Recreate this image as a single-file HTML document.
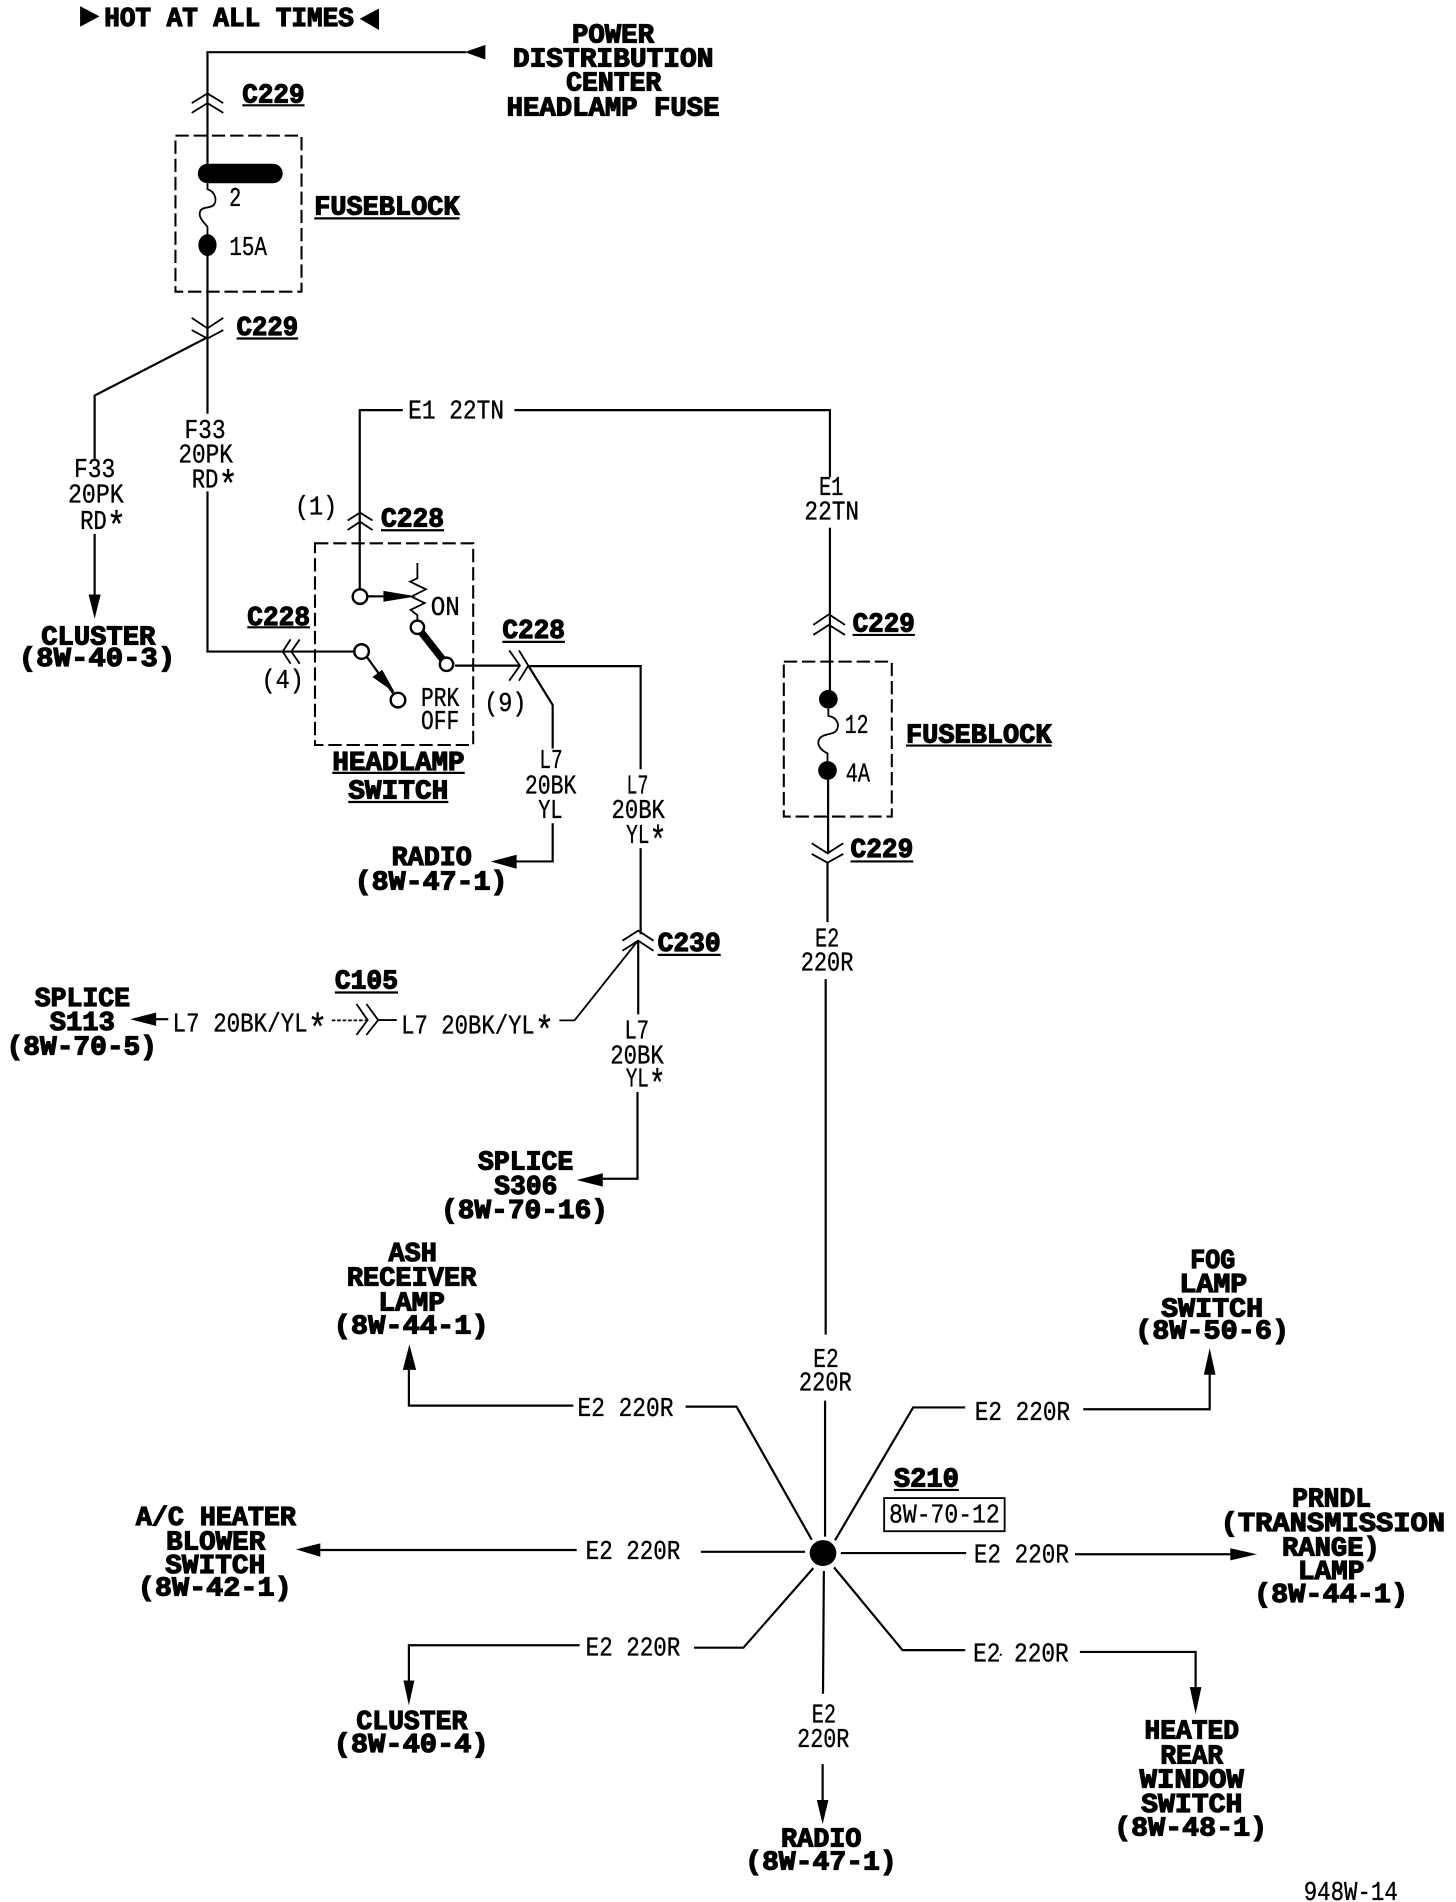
<!DOCTYPE html>
<html><head><meta charset="utf-8"><title>Headlamp wiring diagram</title>
<style>
html,body{margin:0;padding:0;background:#fff}
svg{display:block;width:1456px;height:1902px}
.w{fill:none;stroke:#000;stroke-width:1.8}
.k{fill:none;stroke:#000;stroke-width:1.5}
.d{fill:none;stroke:#000;stroke-width:1.7;stroke-dasharray:11 4}
.c{fill:#fff;stroke:#000;stroke-width:2}
.b{font:bold 22px "Liberation Mono",monospace;fill:#000;stroke:#000;stroke-width:1}
.t{font:22px "Liberation Mono","DejaVu Sans Mono",monospace;fill:#000;stroke:#000;stroke-width:.3}
.s{font-size:32px}
</style></head><body>
<svg xmlns="http://www.w3.org/2000/svg" viewBox="0 0 1200 1567.6" preserveAspectRatio="none">
<rect width="1200" height="1567.6" fill="#fff"/>
<!-- top section wires -->
<path class="w" d="M384 43H171V135M171 195V341M171 278L78 326V378M78 440V492"/>
<path class="k" d="M158 85L171 77L184 85M158 93L171 85L184 93M158 262L171 270.6L184 262M158 272L171 279L184 272"/>
<polygon points="383,43 400,37 400,49"/><polygon points="78,510 73,490 83,490"/>
<polygon points="66,5 82,13.5 66,22"/><polygon points="312.4,7 296.5,15.5 312.4,24.7"/>
<rect class="d" x="144.6" y="111.8" width="103.9" height="128.6"/>
<path d="M171 143H225" stroke="#000" stroke-width="16" stroke-linecap="round" fill="none"/>
<path class="k" d="M171 151V156C178 158 179 166 176 169C173 172 167 170 165 174C163 179 168 183 171 187V195"/>
<ellipse cx="171" cy="202" rx="7.5" ry="9"/>
<!-- E1 -->
<path class="w" d="M296.5 486V338H332M424 338H684V393M684 435V576M682.5 635V704M682 711V760M680.5 807V1100"/>
<path class="k" d="M670.3 515L683.2 506.3L696.4 515M670.3 523.3L683.2 515L696.4 523.3M669 695L682 703.3L695 695M669 703.8L682 711L695 703.8"/>
<path class="k" d="M286.5 429L296.7 422.5L307 429M286.5 436.8L296.7 430L307 436.8"/>
<rect class="d" x="646" y="545.3" width="89" height="127.7"/>
<circle cx="682.7" cy="576.3" r="7.7"/><circle cx="682" cy="635" r="7.7"/>
<path class="k" d="M682.7 584V590C689 591 692 596 690 601C688 606 680 604 676 608C672 613 676 618 682 621V628"/>
<!-- headlamp switch -->
<rect class="d" x="259.6" y="447.8" width="130.4" height="166.2"/>
<path class="w" d="M171 405V537H292M375 548.6H428.5M435 549H528V634M528 699V770M435.4 548.6L455.5 581V617M455.5 678.5V710H425M526 775V836M525.4 900V971.5H496.8"/>
<path class="k" d="M239.5 527L233 537L239.5 547M247 527L240 537L247 547M419.7 536L428.5 548.6L419.7 561M427.7 536L435.4 548.6L427.7 561"/>
<path class="k" d="M344 464V476.6L338 479.4L351 485.7L339 491.7L350 497L338.4 502.7L344 507V512"/>
<path d="M344 517L368 547.5" stroke="#000" stroke-width="6" fill="none"/>
<path class="w" d="M303 491.5H316"/><polygon points="316,487 343,491.5 316,496"/>
<polygon points="307,558 315,552 325.5,571"/>
<path class="w" d="M302 541L328 577"/>
<circle class="c" cx="296.7" cy="491.7" r="6"/><circle class="c" cx="344" cy="517" r="5.5"/><circle class="c" cx="368" cy="547.5" r="5.5"/><circle class="c" cx="298" cy="537" r="6"/><circle class="c" cx="328" cy="577" r="6"/>
<polygon points="404.4,710 425.8,704.5 425.8,716"/>
<!-- C230 -->
<path class="k" d="M513 775.3L526 767L538.6 775.3M513 783.6L526 775.3L538.6 783.6M526 775L473.5 841H461"/>
<polygon points="475.3,972.5 496.8,967 496.8,978"/>
<!-- C105 -->
<path class="k" d="M293.8 827.5L303 840.7L293.8 853M302 827.5L311.7 840.7L302 853M311.7 840.7H327"/>
<path class="k" stroke-dasharray="3 1.5" d="M273.4 841H303"/>
<path class="w" d="M128 840H138.7"/><polygon points="107.2,840 128.7,834.5 128.7,845.5"/>
<!-- S210 star -->
<ellipse cx="678.3" cy="1280" rx="11" ry="10.7"/>
<path class="w" d="M337 1129V1158.5H472.6M565 1159.3H607L669 1269M264 1277.5H475.3M577.6 1279H663.5M477.7 1356H337V1385.5M572 1358H612.7L670.3 1292.4M680 1154.4V1266.5M688.2 1269.5L752.6 1160H795.5M892.8 1161.5H997V1133M693 1280H796.3M886 1281H1014M687.4 1291.8L743.8 1360H795.5M890 1361.5H985.4V1392M679 1294.8L678.3 1396M678 1454V1486"/>
<polygon points="337.4,1108 332,1129 343,1129"/>
<polygon points="243.9,1277 264,1272 264,1283"/>
<polygon points="337,1405.5 332.5,1385 341.5,1385"/>
<polygon points="997,1111 992.2,1133 1001.8,1133"/>
<polygon points="1036,1281 1014,1276 1014,1286"/>
<polygon points="985.4,1412.5 980.6,1390.5 990.2,1390.5"/>
<polygon points="678,1503.5 673.2,1483.5 682.8,1483.5"/>
<rect x="728.7" y="1234.7" width="99.3" height="27.3" fill="none" stroke="#000" stroke-width="1.5"/>
<rect x="824" y="1363" width="1.6" height="1.6"/>
<!-- underlines -->
<path class="w" d="M199.7 86.8H251M259 180H378.7M195 279H245.7M314 437H366M203.8 517H255.5M414 529H465.6M273.9 637H383M287 661H369.5M542 787H594M702.7 523.3H754M746.7 614.5H866.7M701 710H752.7M276 818H328M736.7 1228H790.3"/>
<!-- bold labels -->
<text class="b" x="85.9" y="21.4" textLength="205.7" lengthAdjust="spacingAndGlyphs">HOT AT ALL TIMES</text>
<text class="b" x="471.4" y="35.2" textLength="67.6" lengthAdjust="spacingAndGlyphs">POWER</text>
<text class="b" x="422.7" y="55" textLength="165.3" lengthAdjust="spacingAndGlyphs">DISTRIBUTION</text>
<text class="b" x="466.6" y="74.7" textLength="78.4" lengthAdjust="spacingAndGlyphs">CENTER</text>
<text class="b" x="417.5" y="95" textLength="175.5" lengthAdjust="spacingAndGlyphs">HEADLAMP FUSE</text>
<text class="b" x="199.7" y="84.6" textLength="51.3" lengthAdjust="spacingAndGlyphs">C229</text>
<text class="b" x="259" y="177" textLength="119.7" lengthAdjust="spacingAndGlyphs">FUSEBLOCK</text>
<text class="b" x="195" y="276" textLength="50.7" lengthAdjust="spacingAndGlyphs">C229</text>
<text class="b" x="34" y="531" textLength="94" lengthAdjust="spacingAndGlyphs">CLUSTER</text>
<text class="b" x="15.5" y="549" textLength="129" lengthAdjust="spacingAndGlyphs">(8W-40-3)</text>
<text class="b" x="314" y="434" textLength="52" lengthAdjust="spacingAndGlyphs">C228</text>
<text class="b" x="203.8" y="515" textLength="51.7" lengthAdjust="spacingAndGlyphs">C228</text>
<text class="b" x="414" y="526" textLength="51.6" lengthAdjust="spacingAndGlyphs">C228</text>
<text class="b" x="273.9" y="634.6" textLength="109" lengthAdjust="spacingAndGlyphs">HEADLAMP</text>
<text class="b" x="287" y="658" textLength="82.5" lengthAdjust="spacingAndGlyphs">SWITCH</text>
<text class="b" x="322.8" y="713" textLength="66" lengthAdjust="spacingAndGlyphs">RADIO</text>
<text class="b" x="292.3" y="733" textLength="126" lengthAdjust="spacingAndGlyphs">(8W-47-1)</text>
<text class="b" x="542" y="784" textLength="52" lengthAdjust="spacingAndGlyphs">C230</text>
<text class="b" x="702.7" y="520.6" textLength="51.3" lengthAdjust="spacingAndGlyphs">C229</text>
<text class="b" x="746.7" y="612" textLength="120" lengthAdjust="spacingAndGlyphs">FUSEBLOCK</text>
<text class="b" x="701" y="706.5" textLength="51.7" lengthAdjust="spacingAndGlyphs">C229</text>
<text class="b" x="276" y="814.6" textLength="52" lengthAdjust="spacingAndGlyphs">C105</text>
<text class="b" x="28.6" y="829" textLength="78.6" lengthAdjust="spacingAndGlyphs">SPLICE</text>
<text class="b" x="41" y="849" textLength="53.7" lengthAdjust="spacingAndGlyphs">S113</text>
<text class="b" x="5.4" y="869" textLength="124" lengthAdjust="spacingAndGlyphs">(8W-70-5)</text>
<text class="b" x="394" y="964" textLength="78.5" lengthAdjust="spacingAndGlyphs">SPLICE</text>
<text class="b" x="407.4" y="984" textLength="52" lengthAdjust="spacingAndGlyphs">S306</text>
<text class="b" x="363.5" y="1004" textLength="137.6" lengthAdjust="spacingAndGlyphs">(8W-70-16)</text>
<text class="b" x="320.2" y="1039.5" textLength="39.8" lengthAdjust="spacingAndGlyphs">ASH</text>
<text class="b" x="285.9" y="1059.7" textLength="106.7" lengthAdjust="spacingAndGlyphs">RECEIVER</text>
<text class="b" x="311.8" y="1080" textLength="54.9" lengthAdjust="spacingAndGlyphs">LAMP</text>
<text class="b" x="275" y="1099" textLength="127.8" lengthAdjust="spacingAndGlyphs">(8W-44-1)</text>
<text class="b" x="981" y="1045" textLength="37" lengthAdjust="spacingAndGlyphs">FOG</text>
<text class="b" x="972" y="1065" textLength="56" lengthAdjust="spacingAndGlyphs">LAMP</text>
<text class="b" x="957" y="1085" textLength="84" lengthAdjust="spacingAndGlyphs">SWITCH</text>
<text class="b" x="935.5" y="1103" textLength="127" lengthAdjust="spacingAndGlyphs">(8W-50-6)</text>
<text class="b" x="112" y="1256.8" textLength="131.9" lengthAdjust="spacingAndGlyphs">A/C HEATER</text>
<text class="b" x="136.9" y="1277" textLength="81.7" lengthAdjust="spacingAndGlyphs">BLOWER</text>
<text class="b" x="136.2" y="1296.5" textLength="82.4" lengthAdjust="spacingAndGlyphs">SWITCH</text>
<text class="b" x="113.5" y="1315" textLength="127" lengthAdjust="spacingAndGlyphs">(8W-42-1)</text>
<text class="b" x="293.7" y="1425" textLength="91.5" lengthAdjust="spacingAndGlyphs">CLUSTER</text>
<text class="b" x="275" y="1444" textLength="127.8" lengthAdjust="spacingAndGlyphs">(8W-40-4)</text>
<text class="b" x="643.7" y="1522" textLength="66.3" lengthAdjust="spacingAndGlyphs">RADIO</text>
<text class="b" x="614.1" y="1541" textLength="125" lengthAdjust="spacingAndGlyphs">(8W-47-1)</text>
<text class="b" x="943.3" y="1433" textLength="77.9" lengthAdjust="spacingAndGlyphs">HEATED</text>
<text class="b" x="956.4" y="1453.3" textLength="51.6" lengthAdjust="spacingAndGlyphs">REAR</text>
<text class="b" x="939.3" y="1473.3" textLength="85.9" lengthAdjust="spacingAndGlyphs">WINDOW</text>
<text class="b" x="940.5" y="1493.5" textLength="83.5" lengthAdjust="spacingAndGlyphs">SWITCH</text>
<text class="b" x="918.2" y="1513" textLength="126.2" lengthAdjust="spacingAndGlyphs">(8W-48-1)</text>
<text class="b" x="1064.9" y="1241.7" textLength="65.1" lengthAdjust="spacingAndGlyphs">PRNDL</text>
<text class="b" x="1006" y="1262" textLength="185" lengthAdjust="spacingAndGlyphs">(TRANSMISSION</text>
<text class="b" x="1056.6" y="1282" textLength="80.6" lengthAdjust="spacingAndGlyphs">RANGE)</text>
<text class="b" x="1069.7" y="1301.2" textLength="54.8" lengthAdjust="spacingAndGlyphs">LAMP</text>
<text class="b" x="1033.5" y="1320.5" textLength="127" lengthAdjust="spacingAndGlyphs">(8W-44-1)</text>
<text class="b" x="736.7" y="1225" textLength="53.6" lengthAdjust="spacingAndGlyphs">S210</text>
<!-- thin labels -->
<text class="t" x="188.8" y="170" textLength="10" lengthAdjust="spacingAndGlyphs">2</text>
<text class="t" x="189" y="210" textLength="31" lengthAdjust="spacingAndGlyphs">15A</text>
<text class="t" x="336.4" y="345" textLength="79" lengthAdjust="spacingAndGlyphs">E1 22TN</text>
<text class="t" x="152" y="361" textLength="34" lengthAdjust="spacingAndGlyphs">F33</text>
<text class="t" x="147" y="381" textLength="45" lengthAdjust="spacingAndGlyphs">20PK</text>
<text class="t" x="158" y="402" textLength="38" lengthAdjust="spacingAndGlyphs">RD<tspan class="s" dy="8">*</tspan></text>
<text class="t" x="61" y="393" textLength="34" lengthAdjust="spacingAndGlyphs">F33</text>
<text class="t" x="56" y="414" textLength="46" lengthAdjust="spacingAndGlyphs">20PK</text>
<text class="t" x="66" y="436" textLength="38" lengthAdjust="spacingAndGlyphs">RD<tspan class="s" dy="8">*</tspan></text>
<text class="t" x="675" y="408" textLength="20" lengthAdjust="spacingAndGlyphs">E1</text>
<text class="t" x="663" y="428" textLength="45" lengthAdjust="spacingAndGlyphs">22TN</text>
<text class="t" x="243" y="424" textLength="35" lengthAdjust="spacingAndGlyphs">(1)</text>
<text class="t" x="215.5" y="567" textLength="35" lengthAdjust="spacingAndGlyphs">(4)</text>
<text class="t" x="399" y="586" textLength="35" lengthAdjust="spacingAndGlyphs">(9)</text>
<text class="t" x="355" y="507" textLength="24" lengthAdjust="spacingAndGlyphs">ON</text>
<text class="t" x="347" y="582" textLength="31.5" lengthAdjust="spacingAndGlyphs">PRK</text>
<text class="t" x="347" y="601" textLength="31.5" lengthAdjust="spacingAndGlyphs">OFF</text>
<text class="t" x="444.5" y="633" textLength="19.2" lengthAdjust="spacingAndGlyphs">L7</text>
<text class="t" x="432.6" y="654" textLength="42.4" lengthAdjust="spacingAndGlyphs">20BK</text>
<text class="t" x="443.6" y="674" textLength="20" lengthAdjust="spacingAndGlyphs">YL</text>
<text class="t" x="516.4" y="654" textLength="18" lengthAdjust="spacingAndGlyphs">L7</text>
<text class="t" x="504" y="674" textLength="44" lengthAdjust="spacingAndGlyphs">20BK</text>
<text class="t" x="516" y="695" textLength="33.4" lengthAdjust="spacingAndGlyphs">YL<tspan class="s" dy="8">*</tspan></text>
<text class="t" x="696.2" y="604" textLength="19.6" lengthAdjust="spacingAndGlyphs">12</text>
<text class="t" x="697" y="644" textLength="20" lengthAdjust="spacingAndGlyphs">4A</text>
<text class="t" x="671.7" y="780" textLength="20" lengthAdjust="spacingAndGlyphs">E2</text>
<text class="t" x="660" y="800" textLength="43.3" lengthAdjust="spacingAndGlyphs">220R</text>
<text class="t" x="142.2" y="850" textLength="127.6" lengthAdjust="spacingAndGlyphs">L7 20BK/YL<tspan class="s" dy="8">*</tspan></text>
<text class="t" x="330.6" y="851.7" textLength="126.2" lengthAdjust="spacingAndGlyphs">L7 20BK/YL<tspan class="s" dy="8">*</tspan></text>
<text class="t" x="514.7" y="856" textLength="20.3" lengthAdjust="spacingAndGlyphs">L7</text>
<text class="t" x="503" y="876.4" textLength="44" lengthAdjust="spacingAndGlyphs">20BK</text>
<text class="t" x="515.7" y="895.6" textLength="32.9" lengthAdjust="spacingAndGlyphs">YL<tspan class="s" dy="8">*</tspan></text>
<text class="t" x="670.3" y="1126.7" textLength="21" lengthAdjust="spacingAndGlyphs">E2</text>
<text class="t" x="658.4" y="1146" textLength="43.6" lengthAdjust="spacingAndGlyphs">220R</text>
<text class="t" x="476" y="1167" textLength="79" lengthAdjust="spacingAndGlyphs">E2 220R</text>
<text class="t" x="803.4" y="1170.5" textLength="78.6" lengthAdjust="spacingAndGlyphs">E2 220R</text>
<text class="t" x="482.7" y="1285" textLength="78" lengthAdjust="spacingAndGlyphs">E2 220R</text>
<text class="t" x="802.6" y="1288" textLength="78.4" lengthAdjust="spacingAndGlyphs">E2 220R</text>
<text class="t" x="482.7" y="1364.5" textLength="78" lengthAdjust="spacingAndGlyphs">E2 220R</text>
<text class="t" x="802" y="1369.5" textLength="78.8" lengthAdjust="spacingAndGlyphs">E2 220R</text>
<text class="t" x="669" y="1419.5" textLength="20" lengthAdjust="spacingAndGlyphs">E2</text>
<text class="t" x="657" y="1440" textLength="43" lengthAdjust="spacingAndGlyphs">220R</text>
<text class="t" x="732.7" y="1255" textLength="91.3" lengthAdjust="spacingAndGlyphs">8W-70-12</text>
<text class="t" x="1074.5" y="1566" textLength="77.5" lengthAdjust="spacingAndGlyphs">948W-14</text>
</svg>
</body></html>
